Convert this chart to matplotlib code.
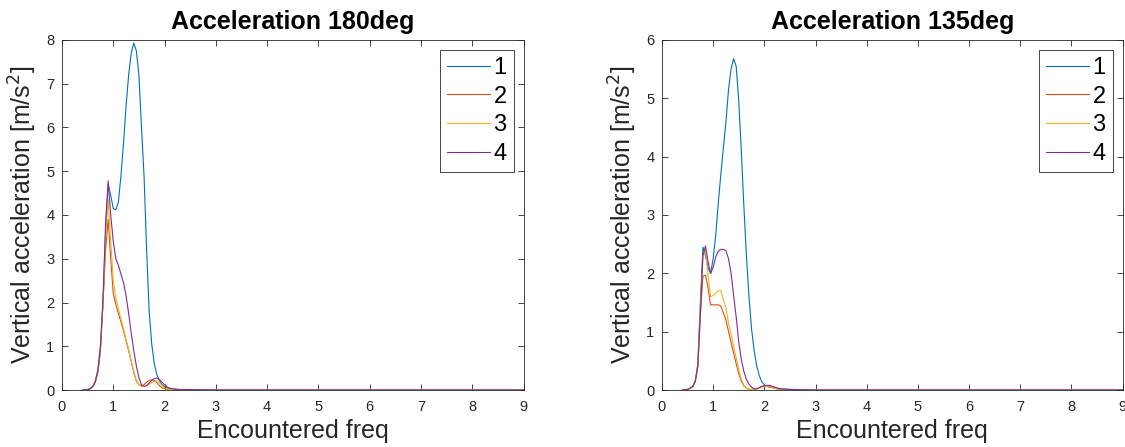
import matplotlib
matplotlib.use("Agg")
import matplotlib.pyplot as plt

plt.rcParams['font.family'] = ['Liberation Sans', 'DejaVu Sans']

freq = [0.4, 0.5, 0.55, 0.6, 0.65, 0.7, 0.75, 0.8, 0.85, 0.9, 0.95, 1.0, 1.05, 1.1,
        1.15, 1.2, 1.25, 1.3, 1.35, 1.4, 1.45, 1.5, 1.55, 1.6, 1.65, 1.7, 1.75, 1.8,
        1.85, 1.9, 1.95, 2.0, 2.05, 2.1, 2.2, 2.3, 2.5, 3.0, 9.0]

# 180 deg
a180_1 = [0, 0.01, 0.03, 0.08, 0.18, 0.4, 0.9, 2.0, 3.6, 4.7, 4.45, 4.15, 4.12, 4.3,
          4.9, 5.65, 6.5, 7.2, 7.7, 7.93, 7.75, 7.2, 6.0, 4.9, 3.2, 1.8, 1.05, 0.6,
          0.35, 0.22, 0.12, 0.08, 0.05, 0.03, 0.02, 0.01, 0.01, 0, 0]
a180_2 = [0, 0.01, 0.03, 0.08, 0.2, 0.45, 1.0, 2.0, 3.2, 3.9, 3.0, 2.2, 1.95, 1.75,
          1.55, 1.35, 1.12, 0.9, 0.65, 0.4, 0.2, 0.12, 0.1, 0.12, 0.18, 0.22, 0.23, 0.22,
          0.17, 0.1, 0.05, 0.03, 0.02, 0.01, 0, 0, 0, 0, 0]
a180_3 = [0, 0.01, 0.03, 0.08, 0.2, 0.45, 1.0, 2.0, 3.5, 4.35, 3.4, 2.5, 2.1, 1.85,
          1.62, 1.4, 1.15, 0.92, 0.66, 0.42, 0.22, 0.12, 0.08, 0.08, 0.1, 0.13, 0.17, 0.2,
          0.21, 0.17, 0.1, 0.05, 0.03, 0.01, 0, 0, 0, 0, 0]
a180_4 = [0, 0.01, 0.03, 0.08, 0.2, 0.45, 1.0, 2.1, 3.8, 4.78, 4.0, 3.4, 3.0, 2.85,
          2.65, 2.45, 2.15, 1.75, 1.3, 0.9, 0.55, 0.28, 0.12, 0.08, 0.1, 0.16, 0.22, 0.26,
          0.27, 0.24, 0.18, 0.12, 0.07, 0.04, 0.02, 0.01, 0.01, 0, 0]

# 135 deg
a135_1 = [0, 0.01, 0.03, 0.06, 0.15, 0.45, 1.5, 2.45, 2.3, 2.1, 2.0, 2.25, 2.65, 3.2,
          3.7, 4.15, 4.6, 5.15, 5.5, 5.68, 5.55, 4.95, 4.1, 3.15, 2.3, 1.6, 1.05, 0.68,
          0.42, 0.25, 0.14, 0.09, 0.06, 0.05, 0.04, 0.02, 0.01, 0, 0]
a135_2 = [0, 0.01, 0.03, 0.06, 0.15, 0.4, 1.3, 1.95, 1.97, 1.75, 1.46, 1.46, 1.46, 1.46,
          1.44, 1.32, 1.2, 1.0, 0.82, 0.63, 0.45, 0.28, 0.15, 0.07, 0.03, 0.01, 0.01, 0.01,
          0.02, 0.04, 0.06, 0.07, 0.07, 0.06, 0.03, 0.01, 0, 0, 0]
a135_3 = [0, 0.01, 0.03, 0.06, 0.15, 0.4, 1.4, 2.3, 2.4, 1.95, 1.6, 1.62, 1.66, 1.7,
          1.7, 1.55, 1.4, 1.15, 0.95, 0.75, 0.55, 0.35, 0.18, 0.08, 0.03, 0.01, 0.01, 0.01,
          0.02, 0.03, 0.05, 0.06, 0.06, 0.05, 0.03, 0.01, 0, 0, 0]
a135_4 = [0, 0.01, 0.03, 0.06, 0.15, 0.4, 1.3, 2.3, 2.47, 2.2, 2.0, 2.1, 2.28, 2.38,
          2.41, 2.41, 2.39, 2.25, 2.0, 1.62, 1.25, 0.82, 0.52, 0.32, 0.18, 0.1, 0.05, 0.02,
          0.02, 0.04, 0.06, 0.07, 0.08, 0.08, 0.05, 0.02, 0.01, 0, 0]

labels = ['1', '2', '3', '4']
colors = ['#0072BD', '#D95319', '#EDB120', '#7E2F8E']
titles = ['Acceleration 180deg', 'Acceleration 135deg']
xticks = list(range(0, 10))

fig = plt.figure(figsize=(11.25, 4.47), dpi=100)
ax1 = fig.add_axes([62/1125, 57/447, 461.5/1125, 350/447])
ax2 = fig.add_axes([662/1125, 57/447, 460.5/1125, 350/447])

panels = [(ax1, [a180_1, a180_2, a180_3, a180_4], 8, titles[0]),
          (ax2, [a135_1, a135_2, a135_3, a135_4], 6, titles[1])]

axcol = '#262626'
for ax, series, ymax, title in panels:
    for s, c, l in zip(series, colors, labels):
        ax.plot(freq, s, color=c, lw=0.8, label=l)
    ax.set_xlim(0, 9)
    ax.set_ylim(0, ymax)
    ax.set_xticks(xticks)
    ax.set_yticks(list(range(0, ymax + 1)))
    ax.tick_params(direction='in', top=True, right=True, labelsize=10.5,
                   colors=axcol, length=4, width=0.6)
    ax.tick_params(axis='x', pad=7.5)
    ax.tick_params(axis='y', pad=5.5)
    for sp in ax.spines.values():
        sp.set_color(axcol)
        sp.set_linewidth(0.6)
    ax.set_title(title, fontsize=18, fontweight='bold', pad=8)
    ax.set_xlabel('Encountered freq', fontsize=18, color=axcol, labelpad=3)
    ax.set_ylabel('Vertical acceleration [m/s$^2$]', fontsize=18, color=axcol, labelpad=5)
    leg = ax.legend(loc='upper right', fontsize=17, fancybox=False, framealpha=1,
                    edgecolor=axcol, handlelength=1.8, labelspacing=0.28,
                    borderpad=0.3, handletextpad=0.15, borderaxespad=0.42)
    leg.get_frame().set_linewidth(0.6)

fig.savefig('out.png', dpi=100)
